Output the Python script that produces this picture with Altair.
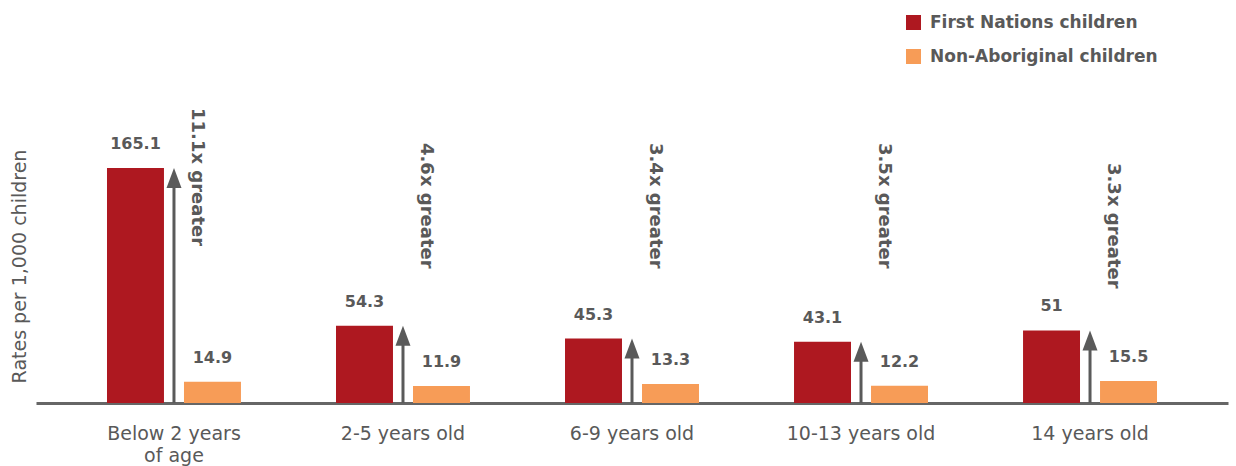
import altair as alt
import pandas as pd

categories = ["Below 2 years of age", "2-5 years old", "6-9 years old", "10-13 years old", "14 years old"]
first_nations = [165.1, 54.3, 45.3, 43.1, 51]
non_aboriginal = [14.9, 11.9, 13.3, 12.2, 15.5]
ratio_labels = ["11.1x greater", "4.6x greater", "3.4x greater", "3.5x greater", "3.3x greater"]
series_names = ["First Nations children", "Non-Aboriginal children"]
colors = ["#AE1820", "#F79C57"]

rows = []
for c, a, b in zip(categories, first_nations, non_aboriginal):
    rows.append({"category": c, "series": series_names[0], "value": a})
    rows.append({"category": c, "series": series_names[1], "value": b})
long_df = pd.DataFrame(rows)
wide_df = pd.DataFrame({"category": categories, "fn": first_nations,
                        "na": non_aboriginal, "ratio": ratio_labels})

TEXT = "#595959"
FONT = "DejaVu Sans"

xscale = alt.Scale(paddingInner=0.415, paddingOuter=0.31)
x_axis = alt.X(
    "category:N", sort=categories, scale=xscale,
    axis=alt.Axis(
        title=None, labelAngle=0, ticks=False,
        labelExpr="datum.label == 'Below 2 years of age' ? ['Below 2 years', 'of age'] : datum.label",
        domainColor="#666666", domainWidth=3, labelColor=TEXT, labelFont=FONT,
        labelFontSize=19, labelPadding=21, labelLineHeight=22,
    ),
)
x_plain = alt.X("category:N", sort=categories, scale=xscale, axis=None)
yscale = alt.Scale(domain=[0, 192.5], nice=False)

offset = alt.XOffset("series:N", sort=series_names,
                     scale=alt.Scale(paddingInner=0.26, paddingOuter=0))

bars = alt.Chart(long_df).mark_bar().encode(
    x=x_axis,
    xOffset=offset,
    y=alt.Y("value:Q", scale=yscale,
            axis=alt.Axis(title="Rates per 1,000 children", labels=False, ticks=False,
                          grid=False, domain=False, titleFont=FONT, titleFontSize=19,
                          titleFontWeight="normal", titleColor=TEXT, titlePadding=7)),
    color=alt.Color("series:N", sort=series_names,
                    scale=alt.Scale(domain=series_names, range=colors),
                    legend=alt.Legend(title=None, orient="none", legendX=869, legendY=-115,
                                      symbolType="square", symbolSize=225,
                                      symbolStrokeWidth=0, labelFont=FONT,
                                      labelFontSize=17, labelFontWeight="bold",
                                      labelColor=TEXT, rowPadding=16, labelOffset=8,
                                      labelLimit=400, padding=0)),
)

values = alt.Chart(long_df).mark_text(
    baseline="bottom", dy=-16, font=FONT, fontSize=16, fontWeight="bold", color=TEXT
).encode(
    x=x_plain, xOffset=offset,
    y=alt.Y("value:Q", scale=yscale, axis=None),
    text="value:Q",
)

shaft = alt.Chart(wide_df).mark_rule(color="#5A5A5A", strokeWidth=3, yOffset=10).encode(
    x=x_plain,
    y=alt.Y("fn:Q", scale=yscale, axis=None),
    y2=alt.Y2(datum=0),
)

head = alt.Chart(wide_df).mark_point(
    shape="M0,0L0.75,2L-0.75,2Z", size=400, filled=True, opacity=1,
    color="#5A5A5A", strokeWidth=0
).encode(
    x=x_plain,
    y=alt.Y("fn:Q", scale=yscale, axis=None),
)

ratio_text = alt.Chart(wide_df).transform_calculate(
    ty="datum.category == 'Below 2 years of age' ? -21 : (datum.category == '14 years old' ? 34 : 14)"
).mark_text(
    angle=90, align="left", baseline="middle", font=FONT, fontSize=18,
    fontWeight="bold", color=TEXT, xOffset=23
).encode(
    x=x_plain,
    y=alt.Y("ty:Q", scale=None, axis=None),
    text="ratio:N",
)

chart = alt.layer(bars, values, shaft, head, ratio_text).resolve_axis(
    x="independent", y="independent"
).properties(
    width=1192, height=274,
    autosize="none",
    padding={"left": 36, "top": 129, "right": 8, "bottom": 63},
    background="#FFFFFF",
).configure_view(stroke=None)

chart.save("out.html", embed_options={"renderer": "svg", "actions": False})
